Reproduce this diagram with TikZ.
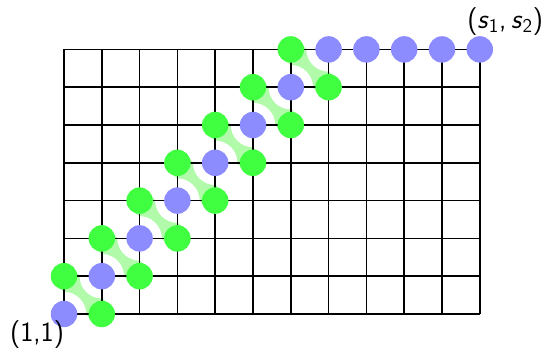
\documentclass[tikz,border=0pt]{standalone}
\usepackage{fontspec}
\definecolor{dotgreen}{RGB}{64,255,64}
\definecolor{dotblue}{RGB}{140,140,255}
\definecolor{bandgreen}{RGB}{176,250,170}
\pgfdeclarelayer{bg}
\pgfdeclarelayer{gridlayer}
\pgfsetlayers{bg,gridlayer,main}
\begin{document}
\begin{tikzpicture}[x=1cm,y=1cm,
  bluedot/.style={circle,fill=dotblue,minimum size=0.7cm,inner sep=0pt},
  greendot/.style={circle,fill=dotgreen,minimum size=0.7cm,inner sep=0pt},
  band/.style={draw=bandgreen,line width=0.6cm},
  gridline/.style={line width=1.2pt,black},
  lab/.style={font=\fontsize{21}{25}\selectfont\sffamily,inner sep=0pt}]
\useasboundingbox (-1.693,-1.111) rectangle (12.804,8.307);
% dots
\foreach \i in {0,...,7} {\node[bluedot] (b\i) at (\i,\i) {};}
\foreach \i in {8,...,11} {\node[bluedot] (b\i) at (\i,7) {};}
\foreach \i [evaluate=\i as \j using int(\i+1)] in {0,...,6} {
  \node[greendot] (gu\i) at (\i,\j) {};
  \node[greendot] (gl\i) at (\j,\i) {};
}
% grid
\begin{pgfonlayer}{gridlayer}
\draw[gridline] (0,0) grid (11,7);
\end{pgfonlayer}
% bands
\begin{pgfonlayer}{bg}
\begin{scope}[even odd rule]
\clip (-2,-2) rectangle (13,9)
  (0,0) circle[radius=0.59] (1,1) circle[radius=0.59]
  (2,2) circle[radius=0.59] (3,3) circle[radius=0.59]
  (4,4) circle[radius=0.59] (5,5) circle[radius=0.59]
  (6,6) circle[radius=0.59] (7,7) circle[radius=0.59];
\foreach \i in {0,...,6} {\draw[band] (gu\i.center) -- (gl\i.center);}
\end{scope}
\end{pgfonlayer}
% labels
\node[lab] (l11) at (-0.714,-0.55) {(1,1)};
\node[lab] (ls) at (11.67,7.74) {(\textit{s}\textsubscript{1},\,\textit{s}\textsubscript{2})};
\end{tikzpicture}
\end{document}
